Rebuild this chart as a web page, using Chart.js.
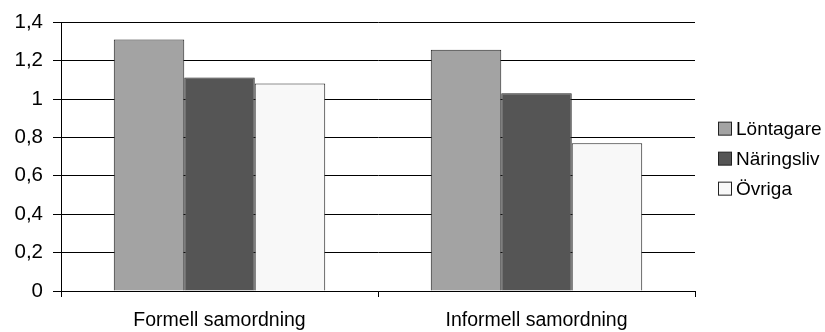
<!DOCTYPE html>
<html>
<head>
<meta charset="utf-8">
<script src="https://cdn.jsdelivr.net/npm/chart.js@4"></script>
<style>
  html, body { margin: 0; padding: 0; background: #fff; }
  canvas { display: block; }
</style>
</head>
<body>
<canvas id="chart" width="825" height="332"></canvas>
<script>
const kategorier = ['Formell samordning', 'Informell samordning'];
const serier = ['Löntagare', 'Näringsliv', 'Övriga'];
const lontagare = [1.31, 1.257];
const naringsliv = [1.112, 1.03];
const ovriga = [1.081, 0.77];
const farger = ['#a3a3a3', '#555555', '#f8f8f8'];

const FONT = 'Liberation Sans, Arial, sans-serif';
Chart.defaults.font.family = FONT;
Chart.defaults.font.size = 19;
Chart.defaults.color = '#000';

// egen legend till höger om diagrammet
const legendPlugin = {
    id: 'sidolegend',
    afterDraw(chart) {
        const ctx = chart.ctx;
        const area = chart.chartArea;
        const mid = (area.top + area.bottom) / 2 + 2;
        const step = 30;
        ctx.save();
        ctx.font = '19px ' + FONT;
        ctx.textBaseline = 'middle';
        chart.data.datasets.forEach((ds, i) => {
            const y = mid + (i - 1) * step;
            ctx.fillStyle = ds.backgroundColor;
            ctx.fillRect(718.5, y - 6.5, 13, 13);
            ctx.strokeStyle = '#222';
            ctx.lineWidth = 1;
            ctx.strokeRect(718.5, y - 6.5, 13, 13);
            ctx.fillStyle = '#000';
            ctx.fillText(ds.label, 736, y + 1);
        });
        ctx.restore();
    }
};

new Chart(document.getElementById('chart').getContext('2d'), {
    type: 'bar',
    data: {
        labels: kategorier,
        datasets: [lontagare, naringsliv, ovriga].map((d, i) => ({
            label: serier[i],
            data: d,
            backgroundColor: farger[i],
            borderColor: '#222',
            borderWidth: 1,
            categoryPercentage: 0.667,
            barPercentage: 1
        }))
    },
    options: {
        responsive: false,
        animation: false,
        devicePixelRatio: 1,
        layout: { padding: { top: 22, right: 130, left: 0, bottom: 0 } },
        plugins: {
            legend: { display: false },
            tooltip: { enabled: false }
        },
        scales: {
            x: {
                offset: true,
                grid: { drawOnChartArea: false, drawTicks: true, tickLength: 6, color: '#000', offset: true },
                border: { color: '#000' },
                ticks: { padding: 14, font: { size: 19.5, lineHeight: 1 } },
                afterFit: s => { s.height = 41; }
            },
            y: {
                min: 0,
                max: 1.4,
                ticks: {
                    stepSize: 0.2,
                    padding: 10,
                    font: { size: 20.5 },
                    callback: v => String(Math.round(v * 10) / 10).replace('.', ',')
                },
                grid: { color: '#000', tickLength: 8 },
                border: { color: '#000' },
                afterFit: s => { s.width = 61; }
            }
        }
    },
    plugins: [legendPlugin]
});
</script>
</body>
</html>
